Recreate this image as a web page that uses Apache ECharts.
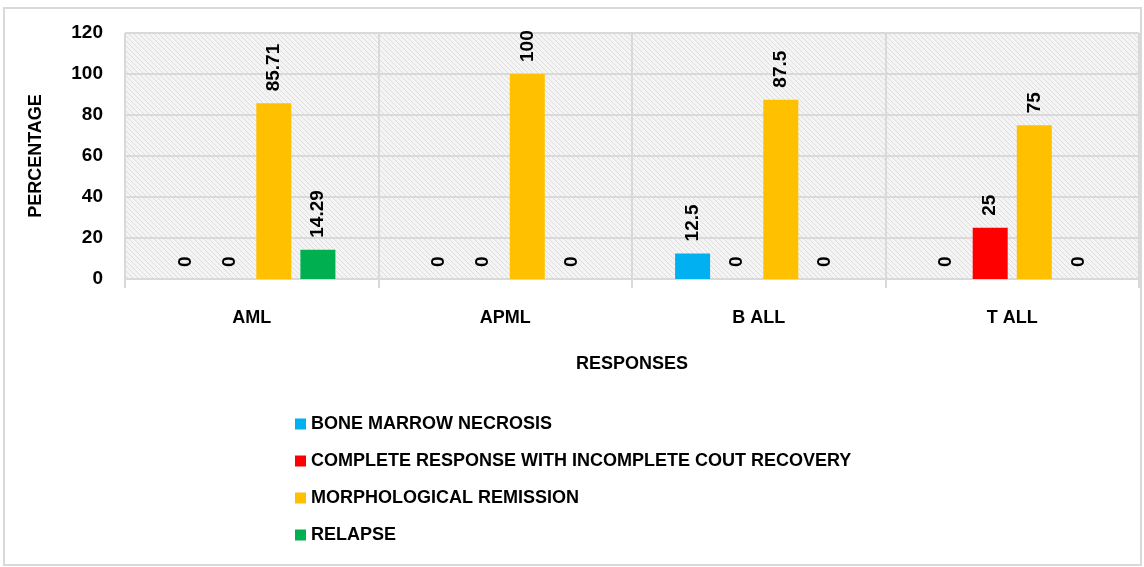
<!DOCTYPE html>
<html>
<head>
<meta charset="utf-8">
<script src="https://cdn.jsdelivr.net/npm/echarts@6/dist/echarts.min.js"></script>
<style>
html,body{margin:0;padding:0;background:#fff;}
#myChart{width:1144px;height:567px;}
</style>
</head>
<body>
<div id="myChart"></div>
<script>
// 数据
var categories = ['AML', 'APML', 'B ALL', 'T ALL'];
var boneMarrowNecrosis = [0, 0, 12.5, 0];
var completeResponseIncomplete = [0, 0, 0, 25];
var morphologicalRemission = [85.71, 100, 87.5, 75];
var relapse = [14.29, 0, 0, 0];
var yTicks = [0, 20, 40, 60, 80, 100, 120];

// 斜线底纹
var tile = document.createElement('canvas');
tile.width = 5; tile.height = 5;
var tctx = tile.getContext('2d');
tctx.fillStyle = '#f4f4f4';
tctx.fillRect(0, 0, 5, 5);
tctx.fillStyle = '#dedede';
for (var i = 0; i < 5; i++) { tctx.fillRect(i, i, 1, 1); }

var font = '"Liberation Sans", Arial, sans-serif';
var labelStyle = {
    show: true,
    position: 'top',
    rotate: 90,
    align: 'left',
    verticalAlign: 'middle',
    distance: 12,
    fontFamily: font,
    fontWeight: 'bold',
    fontSize: 19,
    color: '#000'
};

function makeSeries(name, data, color) {
    return {
        name: name,
        type: 'bar',
        data: data,
        barWidth: 35,
        barGap: '26%',
        itemStyle: { color: color },
        label: labelStyle
    };
}

var myChart = echarts.init(document.getElementById('myChart'));
myChart.setOption({
    animation: false,
    graphic: [{
        type: 'rect',
        shape: { x: 4, y: 8, width: 1137, height: 557 },
        style: { fill: 'none', stroke: '#d9d9d9', lineWidth: 2 },
        silent: true
    }],
    grid: {
        left: 125,
        right: 5,
        top: 33,
        bottom: 288,
        show: true,
        borderWidth: 0,
        backgroundColor: { image: tile, repeat: 'repeat' }
    },
    legend: {
        orient: 'vertical',
        left: 290,
        top: 410,
        itemWidth: 11,
        itemHeight: 11,
        icon: 'rect',
        itemGap: 19,
        textStyle: { fontFamily: font, fontWeight: 'bold', fontSize: 18, color: '#000' }
    },
    xAxis: {
        type: 'category',
        data: categories,
        name: 'RESPONSES',
        nameLocation: 'middle',
        nameGap: 76,
        nameTextStyle: { fontFamily: font, fontWeight: 'bold', fontSize: 18, color: '#000' },
        axisLine: { lineStyle: { color: '#d9d9d9', width: 2 } },
        axisTick: { show: true, length: 9, interval: 0, lineStyle: { color: '#d9d9d9', width: 2 } },
        splitLine: { show: true, interval: 0, lineStyle: { color: '#d9d9d9', width: 2 } },
        axisLabel: { margin: 30, fontFamily: font, fontWeight: 'bold', fontSize: 18, color: '#000' }
    },
    yAxis: {
        type: 'value',
        min: yTicks[0],
        max: yTicks[yTicks.length - 1],
        interval: 20,
        name: 'PERCENTAGE',
        nameLocation: 'middle',
        nameGap: 80,
        nameTextStyle: { fontFamily: font, fontWeight: 'bold', fontSize: 18, color: '#000' },
        axisLine: { show: false },
        axisTick: { show: false },
        splitLine: { lineStyle: { color: '#d9d9d9', width: 2 } },
        axisLabel: { margin: 22, fontFamily: font, fontWeight: 'bold', fontSize: 19, color: '#000' }
    },
    series: [
        makeSeries('BONE MARROW NECROSIS', boneMarrowNecrosis, '#00B0F0'),
        makeSeries('COMPLETE RESPONSE WITH INCOMPLETE COUT RECOVERY', completeResponseIncomplete, '#FF0000'),
        makeSeries('MORPHOLOGICAL REMISSION', morphologicalRemission, '#FFC000'),
        makeSeries('RELAPSE', relapse, '#00B050')
    ]
});
</script>
</body>
</html>
